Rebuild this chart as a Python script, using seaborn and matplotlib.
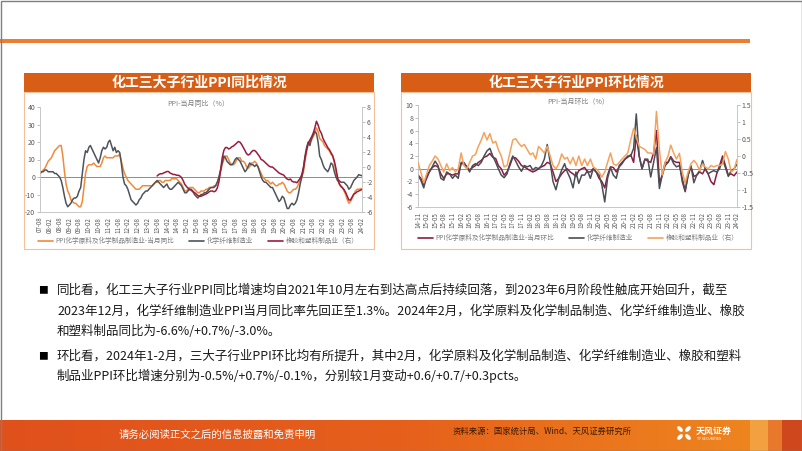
import numpy as np
import pandas as pd
import seaborn as sns
import matplotlib.pyplot as plt
from matplotlib.patches import Rectangle, Ellipse
from matplotlib.lines import Line2D
from matplotlib.colors import LinearSegmentedColormap

sns.set_style('white')
plt.rcParams['font.family'] = ['Noto Sans CJK SC', 'DejaVu Sans']
plt.rcParams['axes.unicode_minus'] = False

# ---- 同比 (YoY), monthly 2007-08 .. 2024-02 ----
yoy_chem = [2, 3, 4, 5, 7,
            9, 10, 11, 13, 15, 16, 17, 18, 18, 12, 3, -4,
            -8, -10, -13, -14, -15, -15, -16, -17, -17, -14, -6, 2,
            6, 7, 7, 7, 8, 7, 6, 6, 6, 8, 11, 12,
            11, 11, 11, 11, 11, 12, 12, 12, 13, 9, 5, 2,
            0, -2, -3, -4, -5, -6, -7, -7, -7, -6, -5, -5,
            -5, -5, -5, -5, -5, -4, -3, -3, -2, -2, -3, -3,
            -2, -2, -2, -2, -1, -1, -1, -1, -2, -3, -4, -6,
            -8, -8, -7, -6, -6, -6, -7, -8, -9, -9, -8, -8,
            -8, -7, -7, -6, -6, -6, -5, -5, -3, -1, 3, 7,
            10, 12, 12, 10, 8, 7, 7, 8, 10, 11, 11, 9,
            9, 8, 6, 5, 6, 8, 8, 9, 8, 6, 4, 2,
            0, -1, -2, -2, -3, -4, -3, -4, -5, -5, -4, -4,
            -3, -4, -6, -8, -9, -9, -8, -7, -7, -6, -4, -2,
            0, 3, 9, 15, 19, 20, 21, 23, 25, 28, 26, 22,
            21, 20, 18, 17, 16, 15, 13, 12, 8, 3, -2, -4,
            -5, -6, -8, -10, -13, -15, -14, -12, -10, -8, -7, -7,
            -6.8, -6.6]
yoy_fiber = [2, 3, 3, 4, 4,
             3, 3, 3, 3, 2, 2, 1, 0, -2, -6, -11, -15,
             -17, -16, -15, -13, -12, -12, -11, -8, -6, 2, 10, 15,
             14, 17, 18, 16, 14, 12, 10, 8, 11, 15, 17, 16,
             17, 20, 21, 18, 15, 17, 14, 15, 14, 8, 0, -4,
             -5, -7, -10, -13, -14, -15, -16, -15, -13, -12, -10, -9,
             -8, -8, -7, -6, -5, -4, -3, -2, -3, -4, -5, -6,
             -5, -4, -6, -7, -7, -6, -5, -4, -3, -4, -5, -7,
             -9, -9, -8, -7, -7, -8, -10, -11, -12, -11, -10, -10,
             -9, -9, -8, -7, -6, -6, -6, -5, -3, 0, 4, 8,
             12, 11, 9, 8, 7, 7, 8, 10, 11, 10, 9, 7,
             5, 3, 4, 6, 8, 7, 7, 6, 7, 6, 3, 0,
             -2, -3, -3, -4, -5, -6, -6, -8, -10, -12, -14, -13,
             -11, -12, -15, -18, -18, -16, -15, -16, -15, -13, -9, -4,
             0, 5, 12, 17, 20, 18, 22, 24, 26, 25, 20, 12,
             10, 7, 5, 4, 3, 5, 8, 7, 3, 0, -2, -2,
             -3, -3, -3, -4, -5, -7, -6, -4, -2, -1, 0, 1.3,
             1.0, 0.7]
# rubber & plastics, right axis, 2013-08 .. 2024-02
yoy_rubber = [-1.2, -1.0, -0.9, -0.9, -0.8,
              -0.7, -0.6, -0.6, -0.8, -0.9, -1.0, -1.0, -1.1, -1.1, -1.2, -1.4, -1.8,
              -2.3, -2.6, -2.8, -3.0, -3.1, -3.3, -3.4, -3.6, -3.8, -3.9, -3.9, -3.8,
              -3.7, -3.6, -3.5, -3.3, -3.2, -3.2, -3.3, -3.2, -2.8, -2.0, -0.5, 1.2,
              2.2, 2.6, 2.6, 2.4, 2.5, 2.7, 2.8, 3.0, 3.2, 3.4, 3.3, 3.0,
              2.6, 2.2, 1.8, 1.6, 1.7, 2.0, 2.2, 2.2, 2.0, 1.7, 1.4, 1.0,
              0.9, 0.7, 0.5, 0.3, 0.1, 0.0, 0.0, -0.2, -0.4, -0.6, -0.8, -0.9,
              -1.0, -1.1, -1.4, -1.6, -1.7, -1.6, -1.9, -2.0, -2.0, -2.1, -1.8, -1.5,
              -1.0, 0.0, 1.2, 2.3, 3.2, 3.6, 4.0, 4.5, 5.2, 6.1, 5.6, 4.9,
              4.5, 3.8, 3.4, 3.0, 2.6, 2.3, 1.9, 1.5, 0.8, -0.2, -1.4, -2.2,
              -2.6, -2.8, -3.0, -3.4, -3.9, -4.4, -4.4, -4.0, -3.6, -3.5, -3.3, -3.2,
              -3.1, -3.0]

# ---- 环比 (MoM), monthly 2014-11 .. 2024-02 ----
mom_chem = [-1.0, -1.5,
            -2.5, -1.5, -0.5, 0.2, 0.5, 0.3, -0.8, -1.5, -0.8, -0.8, -1.0, -0.8,
            -0.8, 0.8, 0.8, 0.3, -0.2, 0.2, 0.5, 1.0, 1.3, 1.8, 2.0, 2.4,
            1.8, 1.6, 0.5, 0.0, -1.0, -0.5, 0.5, 1.8, 1.7, 1.2, 0.5, 0.3,
            0.0, -0.3, -0.5, -0.3, 0.0, 0.3, 0.5, 1.0, 0.8, -0.5, -2.0, -1.5,
            -0.8, -0.3, 0.0, -0.5, -0.8, -1.2, -0.3, 0.0, 0.2, -0.5, -0.5, 0.0,
            -0.5, -1.5, -2.0, -3.0, -1.0, 0.3, 0.2, -0.5, 0.3, 0.8, 1.5, 1.8,
            2.2, 1.0, 5.2, 2.0, 0.0, 1.5, 1.2, 1.0, 2.5, 6.0, -2.2, -1.0,
            1.0, 1.0, 1.9, 1.2, 1.0, 1.0, -2.0, -3.6, -1.0, 0.3, -1.2, -1.0,
            -0.5, -0.8, 0.0, -0.8, -2.0, -2.5, -0.8, 0.5, 2.0, 0.5, -1.0, -0.8,
            -1.1, -0.5]
mom_fiber = [-1.0, -1.8,
             -3.0, -1.0, -0.5, 0.3, 1.2, 0.5, -1.5, -1.8, -0.5, -0.8, -1.5, -1.0,
             -1.5, 1.0, 1.0, 0.3, -0.5, 0.5, 0.8, 0.5, 1.0, 2.0, 2.8, 3.2,
             2.0, 1.0, 0.0, -1.0, -1.4, -0.8, 0.8, 2.0, 1.2, 0.3, -0.4, 0.5,
             0.3, 0.5, -0.2, 0.2, 0.0, 0.5, 1.5, 3.8, 1.0, -2.0, -3.3, -1.5,
             -0.2, 0.8, -0.5, -1.5, -3.0, -0.5, -2.3, -1.0, -1.0, -0.3, -1.5, 0.0,
             -0.5, -1.0, -2.5, -5.2, -1.5, 0.2, -1.0, -1.5, 0.5, 1.0, 1.5, 2.0,
             2.0, 3.2, 8.6, 2.0, 0.0, 1.5, 1.5, -1.3, 1.0, 3.3, -3.1, -1.0,
             0.5, 1.0, 1.8, 0.8, 0.3, 0.5, -1.5, -3.4, -1.0, 0.5, -2.2, -1.0,
             -0.3, 1.3, 0.0, -0.8, -0.5, -0.3, -0.5, 0.0, 1.5, 0.2, -1.2, -0.3,
             0.0, 0.7]
# rubber & plastics, right axis
mom_rubber = [-0.19, -0.47,
              -0.79, -0.53, -0.28, -0.15, 0.0, -0.09, -0.28, -0.47, -0.23, -0.43, -0.34, -0.47,
              -0.38, 0.09, -0.28, -0.38, -0.19, 0.0, 0.04, 0.28, 0.47, 0.69, 0.47, 0.66,
              0.38, 0.43, 0.19, 0.0, -0.32, -0.28, 0.09, 0.47, 0.51, 0.38, 0.28, 0.34,
              0.19, 0.04, 0.09, -0.09, 0.28, 0.19, 0.09, 0.28, 0.0, -0.28, -0.38, -0.23,
              0.06, -0.09, -0.04, -0.23, -0.04, -0.28, 0.0, -0.28, -0.09, -0.28, -0.09, -0.32,
              -0.38, -0.47, -0.62, -0.47, -0.19, 0.09, -0.23, -0.28, -0.19, -0.09, 0.0, 0.09,
              0.47, 0.81, 0.56, 0.28, 0.24, 0.19, 0.09, 0.09, 0.06, 1.31, 0.19, -0.56,
              -0.19, 0.0, 0.32, 0.09, -0.09, 0.08, -0.47, -0.79, -0.47, -0.23, -0.13, -0.23,
              -0.43, -0.23, -0.32, -0.38, -0.28, -0.32, -0.28, -0.28, -0.23, 0.13, -0.09, -0.47,
              -0.4, -0.1]

yoy_dates = pd.date_range('2007-08-01', periods=len(yoy_chem), freq='MS')
rub_dates = pd.date_range('2013-08-01', periods=len(yoy_rubber), freq='MS')
mom_dates = pd.date_range('2014-11-01', periods=len(mom_chem), freq='MS')
yoy_ticks = pd.date_range('2007-08-01', '2024-02-01', freq='6MS')
mom_ticks = pd.date_range('2014-11-01', '2024-02-01', freq='3MS')

legend_yoy = ['PPI化学原料及化学制品制造业-当月同比', '化学纤维制造业', '橡胶和塑料制品业（右）']
legend_mom = ['PPI化学原料及化学制品制造业-当月环比', '化学纤维制造业', '橡胶和塑料制品业（右）']

W, H = 802, 451
fig = plt.figure(figsize=(W / 100, H / 100), dpi=100)

# ---------- slide background (pixel coordinates) ----------
bg = fig.add_axes([0, 0, 1, 1], zorder=0)
grad = LinearSegmentedColormap.from_list('g', ['#E0501C', '#E6601B', '#EF8A1F'])
bg.imshow(np.linspace(0, 1, 256).reshape(1, -1), extent=(0, W, 451, 420),
          cmap=grad, aspect='auto', zorder=1)
bg.set_xlim(0, W)
bg.set_ylim(H, 0)
bg.axis('off')


def px_axes(x0, y0, x1, y1):
    return fig.add_axes([x0 / W, 1 - y1 / H, (x1 - x0) / W, (y1 - y0) / H], zorder=2)


bg.add_patch(Rectangle((0, 39), 750, 4, fc='#ED7D31', ec='none'))
for x0, ttl in [(24, '化工三大子行业PPI同比情况'), (401, '化工三大子行业PPI环比情况')]:
    bg.add_patch(Rectangle((x0, 73), 350, 19, fc='#D95E15', ec='none'))
    bg.add_patch(Rectangle((x0, 92), 350, 157, fill=False, ec='#F4C09A', lw=0.8))
    bg.text(x0 + 175, 82.5, ttl, color='white', fontsize=10, fontweight='bold',
            ha='center', va='center')
bg.text(198, 104, 'PPI-当月同比（%）', fontsize=5, color='#7F7F7F', ha='center', va='center')
bg.text(578, 102, 'PPI-当月环比（%）', fontsize=5, color='#7F7F7F', ha='center', va='center')

# footer blocks and texts
for x0, w, c in [(750, 18, '#F2A040'), (768, 14, '#E8782A'), (782, 20, '#CF471C')]:
    bg.add_patch(Rectangle((x0, 420), w, 31, fc=c, ec='none', zorder=2))
bg.text(217, 435, '请务必阅读正文之后的信息披露和免责申明', color='white', fontsize=7.5,
        ha='center', va='center', zorder=3)
bg.text(453, 431, '资料来源：国家统计局、Wind、天风证券研究所', color='#3A1A06', fontsize=6,
        ha='left', va='center', zorder=3)
for dx, dy, ang in [(-4, -4, 45), (4, -4, -45), (-4, 4, -45), (4, 4, 45)]:
    bg.add_patch(Ellipse((684 + dx, 433 + dy), 7, 4, angle=ang, fc='white', ec='none', zorder=3))
bg.text(696, 431, '天风证券', color='white', fontsize=6.5, fontweight='bold',
        ha='left', va='center', zorder=3)
bg.text(697, 438.5, 'TF SECURITIES', color='white', fontsize=2.5, ha='left', va='center', zorder=3)
bg.add_patch(Rectangle((0.5, 0.5), W - 1, H - 1, fill=False, ec='#7F7F7F', lw=1, zorder=4))

# body text
body = [
    (290, True, '同比看，化工三大子行业PPI同比增速均自2021年10月左右到达高点后持续回落，到2023年6月阶段性触底开始回升，截至'),
    (311, False, '2023年12月，化学纤维制造业PPI当月同比率先回正至1.3%。2024年2月，化学原料及化学制品制造、化学纤维制造业、橡胶'),
    (331, False, '和塑料制品同比为-6.6%/+0.7%/-3.0%。'),
    (356, True, '环比看，2024年1-2月，三大子行业PPI环比均有所提升，其中2月，化学原料及化学制品制造、化学纤维制造业、橡胶和塑料'),
    (376, False, '制品业PPI环比增速分别为-0.5%/+0.7%/-0.1%，分别较1月变动+0.6/+0.7/+0.3pcts。'),
]
for y, bullet, line in body:
    if bullet:
        bg.text(38, y, '■', fontsize=7, color='black', ha='left', va='center')
    bg.text(57, y, line, fontsize=9, color='#1A1A1A', ha='left', va='center')


def style(ax, axr):
    for a in (ax, axr):
        a.set_facecolor('none')
        a.spines['top'].set_visible(False)
        for s in ('left', 'right', 'bottom'):
            a.spines[s].set_color('#BFBFBF')
            a.spines[s].set_linewidth(0.6)
        a.tick_params(axis='both', length=2, width=0.5, color='#A6A6A6',
                      labelsize=5, labelcolor='#595959', pad=1.5)
    ax.spines['right'].set_visible(False)
    axr.spines['left'].set_visible(False)
    axr.spines['bottom'].set_visible(False)
    ax.set_xlabel('')
    ax.set_ylabel('')
    axr.set_ylabel('')
    ax.axhline(0, color='#8C8C8C', lw=0.7, zorder=1)


def fmt(v):
    return f'{v:g}'


# ---------- left chart: YoY ----------
c_or, c_gr, c_rd = '#F08A3C', '#4E545A', '#9B1B3D'
ax1 = px_axes(40, 107, 362, 212)
ax1r = ax1.twinx()
sns.lineplot(x=yoy_dates, y=yoy_chem, ax=ax1, color=c_or, linewidth=1.1, errorbar=None)
sns.lineplot(x=yoy_dates, y=yoy_fiber, ax=ax1, color=c_gr, linewidth=1.1, errorbar=None)
sns.lineplot(x=rub_dates, y=yoy_rubber, ax=ax1r, color=c_rd, linewidth=1.1, errorbar=None)
ax1.set_ylim(-20, 40)
ax1.set_yticks(range(-20, 41, 10))
ax1r.set_ylim(-6, 8)
ax1r.set_yticks(range(-6, 9, 2))
ax1r.set_yticklabels([fmt(v) for v in range(-6, 9, 2)])
ax1.set_xlim(yoy_dates[0], yoy_dates[-1])
ax1.set_xticks(yoy_ticks)
ax1.set_xticklabels([d.strftime('%y-%m') for d in yoy_ticks], rotation=90)
style(ax1, ax1r)
ax1.tick_params(axis='x', labelsize=4.5)
h1 = [Line2D([], [], color=c, lw=1.2) for c in (c_or, c_gr, c_rd)]
ax1.legend(h1, legend_yoy, loc='center', bbox_to_anchor=(198 / W, 1 - 241 / H),
           bbox_transform=fig.transFigure, ncol=3, frameon=False, fontsize=4.8,
           handlelength=2.3, handletextpad=0.3, columnspacing=2.3, labelcolor='#7F7F7F')

# ---------- right chart: MoM ----------
m_rd, m_gr, m_or = '#8E1B40', '#4A4F55', '#F5A25C'
ax2 = px_axes(418, 105, 737, 207)
ax2r = ax2.twinx()
sns.lineplot(x=mom_dates, y=mom_chem, ax=ax2, color=m_rd, linewidth=1.1, errorbar=None)
sns.lineplot(x=mom_dates, y=mom_fiber, ax=ax2, color=m_gr, linewidth=1.1, errorbar=None)
sns.lineplot(x=mom_dates, y=mom_rubber, ax=ax2r, color=m_or, linewidth=1.1, errorbar=None)
ax2.set_ylim(-6, 10)
ax2.set_yticks(range(-6, 11, 2))
r_ticks = [-1.5, -1, -0.5, 0, 0.5, 1, 1.5]
ax2r.set_ylim(-1.5, 1.5)
ax2r.set_yticks(r_ticks)
ax2r.set_yticklabels([fmt(v) for v in r_ticks])
ax2.set_xlim(mom_dates[0], mom_dates[-1])
ax2.set_xticks(mom_ticks)
ax2.set_xticklabels([d.strftime('%y-%m') for d in mom_ticks], rotation=90)
style(ax2, ax2r)
ax2.tick_params(axis='x', labelsize=4.5)
h2 = [Line2D([], [], color=c, lw=1.2) for c in (m_rd, m_gr, m_or)]
ax2.legend(h2, legend_mom, loc='center', bbox_to_anchor=(578 / W, 1 - 238 / H),
           bbox_transform=fig.transFigure, ncol=3, frameon=False, fontsize=4.8,
           handlelength=2.3, handletextpad=0.3, columnspacing=2.3, labelcolor='#7F7F7F')

fig.savefig('out.png', dpi=100)
